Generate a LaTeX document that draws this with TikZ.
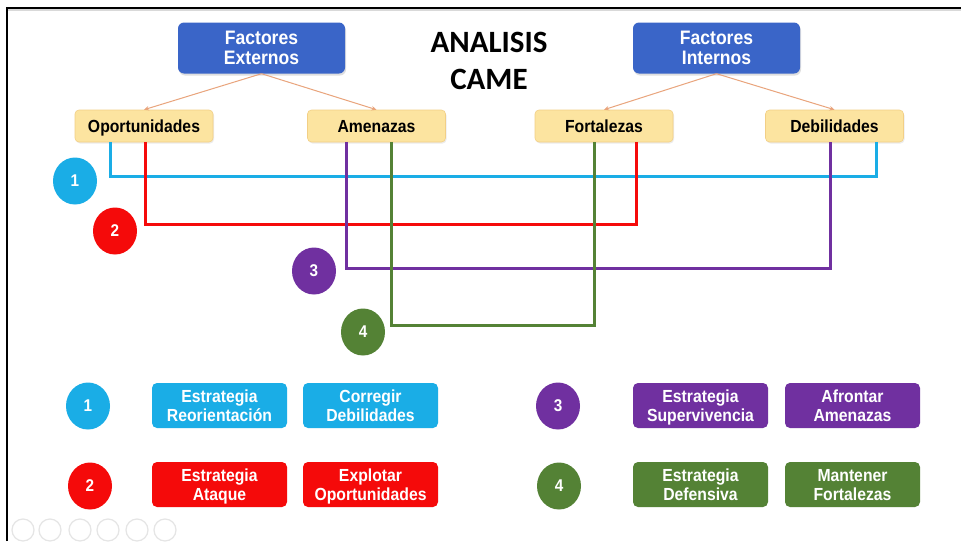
\documentclass[tikz,border=0pt]{standalone}
\usepackage{fontspec}
\setmainfont{Liberation Sans}
\newfontfamily\lsb[FakeStretch=0.9]{Liberation Sans}
\newfontfamily\calb{Carlito}
\usetikzlibrary{arrows.meta,shadows,shapes.geometric}
\definecolor{blueBox}{HTML}{3A65C8}
\definecolor{yelFill}{HTML}{FCE4A0}
\definecolor{yelLine}{HTML}{F2CF86}
\definecolor{arrC}{HTML}{E9A47C}
\definecolor{cyanC}{HTML}{1AADE6}
\definecolor{redC}{HTML}{F50A0A}
\definecolor{purC}{HTML}{7030A0}
\definecolor{grnC}{HTML}{548235}
\newcommand{\twol}[2]{\rule{0pt}{17pt}#1\\#2\rule[-4.5pt]{0pt}{4.5pt}}
\begin{document}
\begin{tikzpicture}[x=1pt,y=-1pt,
  topbox/.style={fill=blueBox, rounded corners=6pt, minimum width=167pt, minimum height=51pt,
    inner ysep=1pt, text=white, align=center, font=\lsb\bfseries\fontsize{19.5}{20}\selectfont,
    drop shadow={opacity=0.25, shadow xshift=1pt, shadow yshift=-2pt}},
  fbox/.style={fill=yelFill, draw=yelLine, line width=0.6pt, rounded corners=4pt,
    minimum width=138pt, minimum height=32pt, text height=14pt, text depth=1.5pt,
    font=\lsb\bfseries\fontsize{17.5}{18}\selectfont,
    drop shadow={opacity=0.15, shadow xshift=1pt, shadow yshift=-1.5pt}},
  num/.style={ellipse, minimum width=44pt, minimum height=47pt, inner sep=0pt, text=white,
    font=\lsb\bfseries\fontsize{17}{18}\selectfont},
  sbox/.style={rounded corners=5pt, minimum width=135pt, minimum height=45pt, inner ysep=1pt,
    text=white, align=center, font=\lsb\bfseries\fontsize{17.5}{19}\selectfont},
  arr/.style={draw=arrC, line width=1pt, -{Stealth[length=5pt,width=4.5pt]}},
  lnk/.style={line width=3pt, line join=miter, line cap=butt},
  tool/.style={draw=gray!20, line width=1.2pt, circle, minimum size=22pt, inner sep=0pt}
]
\useasboundingbox (0,0) rectangle (961,541);
\fill[white] (0,0) rectangle (961,541);
% frame of the screenshot
\fill[gray!30] (8,9) rectangle (961,11);
\draw[line width=2pt] (7,541) -- (7,8) -- (961,8);

% top
\node[topbox] (fe) at (261.5,48) {\twol{Factores}{Externos}};
\node[topbox] (fi) at (716.5,48) {\twol{Factores}{Internos}};
\node[font=\calb\bfseries\fontsize{31}{37}\selectfont, align=center] (title) at (489,61) {ANALISIS\\CAME};

\node[fbox] (op) at (144,126) {Oportunidades};
\node[fbox] (am) at (376.5,126) {Amenazas};
\node[fbox] (fo) at (604,126) {Fortalezas};
\node[fbox] (de) at (834.5,126) {Debilidades};

\draw[arr] (fe.south) -- (op.north);
\draw[arr] (fe.south) -- (am.north);
\draw[arr] (fi.south) -- (fo.north);
\draw[arr] (fi.south) -- (de.north);

% level coordinates
\coordinate (h1) at (0,176);
\coordinate (h2) at (0,224);
\coordinate (h3) at (0,268);
\coordinate (h4) at (0,325);
% end points
\coordinate (p1a) at ([xshift=-34pt]op.south);
\coordinate (p1b) at ([xshift=41.5pt]de.south);
\coordinate (p2a) at ([xshift=1pt]op.south);
\coordinate (p2b) at ([xshift=32pt]fo.south);
\coordinate (p3a) at ([xshift=-30.5pt]am.south);
\coordinate (p3b) at ([xshift=-4.5pt]de.south);
\coordinate (p4a) at ([xshift=14.5pt]am.south);
\coordinate (p4b) at ([xshift=-10pt]fo.south);

\draw[lnk, cyanC] (p1a) -- (p1a |- h1) -- (p1b |- h1) -- (p1b);
\draw[lnk, redC] (p2a) -- (p2a |- h2) -- (p2b |- h2) -- (p2b);
\draw[lnk, purC] (p3a) -- (p3a |- h3) -- (p3b |- h3) -- (p3b);
\draw[lnk, grnC] (p4a) -- (p4a |- h4) -- (p4b |- h4) -- (p4b);

\node[num, fill=cyanC] (n1) at (75,181) {1};
\node[num, fill=redC] (n2) at (115,231) {2};
\node[num, fill=purC] (n3) at (314,271) {3};
\node[num, fill=grnC] (n4) at (363,332) {4};

% bottom legend
\node[num, fill=cyanC] (b1) at (88,406) {1};
\node[sbox, fill=cyanC] (s1a) at (219.5,405.5) {\twol{Estrategia}{Reorientación}};
\node[sbox, fill=cyanC] (s1b) at (370.5,405.5) {\twol{Corregir}{Debilidades}};

\node[num, fill=redC] (b2) at (90,486) {2};
\node[sbox, fill=redC] (s2a) at (219.5,484.5) {\twol{Estrategia}{Ataque}};
\node[sbox, fill=redC] (s2b) at (370.5,484.5) {\twol{Explotar}{Oportunidades}};

\node[num, fill=purC] (b3) at (558,406) {3};
\node[sbox, fill=purC] (s3a) at (700.5,405.5) {\twol{Estrategia}{Supervivencia}};
\node[sbox, fill=purC] (s3b) at (852.5,405.5) {\twol{Afrontar}{Amenazas}};

\node[num, fill=grnC] (b4) at (559,486) {4};
\node[sbox, fill=grnC] (s4a) at (700.5,484.5) {\twol{Estrategia}{Defensiva}};
\node[sbox, fill=grnC] (s4b) at (852.5,484.5) {\twol{Mantener}{Fortalezas}};

% faint viewer toolbar
\foreach \i/\x in {1/23,2/50,3/80,4/108,5/137,6/165} {
  \node[tool] (t\i) at (\x,530) {};
}
\end{tikzpicture}
\end{document}
